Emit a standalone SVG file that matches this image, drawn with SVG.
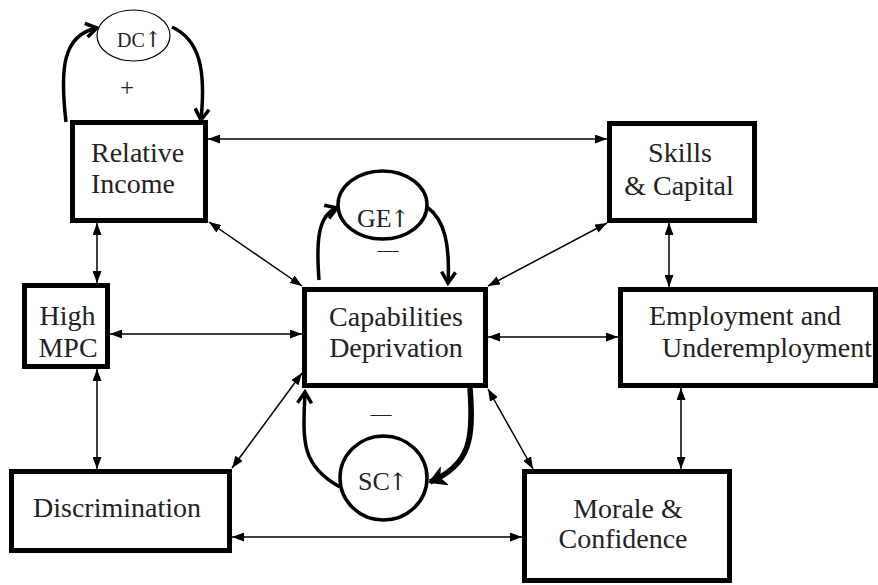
<svg xmlns="http://www.w3.org/2000/svg" width="878" height="585" viewBox="0 0 878 585">
<defs>
<style>
.box{fill:#fff;stroke:#000;stroke-width:5}
.t{font-family:"Liberation Serif","Times New Roman",serif;font-size:28px;fill:#222}
.c{text-anchor:middle}
.ar{font-family:"DejaVu Serif","DejaVu Sans",serif}
.ln{stroke:#000;stroke-width:1.5;fill:none;marker-start:url(#ah);marker-end:url(#ah)}
.loop{stroke:#000;stroke-width:3.5;fill:none;marker-end:url(#chev)}
</style>
<marker id="ah" viewBox="0 0 12 9" refX="12" refY="4.5" markerWidth="12" markerHeight="9" markerUnits="userSpaceOnUse" orient="auto-start-reverse">
<path d="M0,0 L12,4.5 L0,9 z" fill="#000"/>
</marker>
<marker id="chev" viewBox="-2 -2 16 18" refX="11" refY="7" markerWidth="16" markerHeight="18" markerUnits="userSpaceOnUse" orient="auto">
<path d="M0,0 L11,7 L0,14" fill="none" stroke="#000" stroke-width="3.5" stroke-linejoin="miter"/>
</marker>
<marker id="chevf" viewBox="-2 -2 18 20" refX="14" refY="8" markerWidth="18" markerHeight="20" markerUnits="userSpaceOnUse" orient="auto">
<path d="M0,0 L14,8 L0,16 L4,8 z" fill="#000" stroke="#000" stroke-width="2"/>
</marker>
</defs>

<g id="connectors">
<line class="ln" x1="208" y1="139" x2="607" y2="139"/>
<line class="ln" x1="97" y1="223" x2="97" y2="283"/>
<line class="ln" x1="209" y1="222" x2="302" y2="286"/>
<line class="ln" x1="607" y1="223" x2="488" y2="286"/>
<line class="ln" x1="669" y1="223" x2="669" y2="287"/>
<line class="ln" x1="110" y1="334" x2="302" y2="334"/>
<line class="ln" x1="488" y1="337" x2="618" y2="337"/>
<line class="ln" x1="97" y1="369" x2="97" y2="469"/>
<line class="ln" x1="232" y1="468" x2="302" y2="373"/>
<line class="ln" x1="488" y1="389" x2="533" y2="469"/>
<line class="ln" x1="681" y1="388" x2="681" y2="469"/>
<line class="ln" x1="232" y1="537" x2="522" y2="537"/>
<path class="loop" d="M66,122 C60,70 62,35 97,28"/>
<path class="loop" d="M172,27 C200,40 206,70 201,120"/>
<path class="loop" d="M319,280 C316,240 318,215 337,208"/>
<path class="loop" d="M427,207 C445,220 450,245 448,283"/>
<path class="loop" d="M340,487 C300,465 303,440 305,392"/>
<path d="M470,388 C474,440 470,465 430,482" fill="none" stroke="#000" stroke-width="5.5" marker-end="url(#chevf)"/>
</g>

<g id="dc">
<ellipse cx="133.5" cy="35.5" rx="36.5" ry="25.5" fill="#fff" stroke="#000" stroke-width="1.2"/>
<text class="t" x="117" y="47" style="font-size:20px">DC<tspan class="ar" dx="-1" style="font-size:22px">↑</tspan></text>
<text class="t c" x="127" y="96" style="font-size:25px">+</text>
</g>

<g id="ge">
<ellipse cx="382.5" cy="205" rx="44.5" ry="34" fill="#fff" stroke="#000" stroke-width="3.5"/>
<text class="t" x="357" y="227" style="font-size:26px">GE<tspan class="ar" dx="-2" style="font-size:24px">↑</tspan></text>
<text class="t c" x="388" y="257" style="font-size:21px">—</text>
</g>

<g id="sc">
<ellipse cx="383.5" cy="478" rx="43.5" ry="42" fill="#fff" stroke="#000" stroke-width="3.5"/>
<text class="t" x="358" y="490" style="font-size:26px">SC<tspan class="ar" dx="-2" style="font-size:24px">↑</tspan></text>
<text class="t c" x="381" y="421" style="font-size:21px">—</text>
</g>

<g id="relative-income">
<rect class="box" x="72.5" y="122.5" width="133" height="98"/>
<text class="t" x="91" y="162">Relative</text>
<text class="t" x="91" y="193">Income</text>
</g>

<g id="skills-capital">
<rect class="box" x="609.5" y="123.5" width="145" height="97"/>
<text class="t c" x="680" y="162">Skills</text>
<text class="t c" x="679" y="195">&amp; Capital</text>
</g>

<g id="high-mpc">
<rect class="box" x="24.5" y="285.5" width="83" height="81"/>
<text class="t c" x="67.5" y="325">High</text>
<text class="t c" x="68" y="357">MPC</text>
</g>

<g id="capabilities-deprivation">
<rect class="box" x="304.5" y="289.5" width="181" height="96"/>
<text class="t c" x="396" y="326">Capabilities</text>
<text class="t c" x="396" y="357">Deprivation</text>
</g>

<g id="employment">
<rect class="box" x="620.5" y="289.5" width="255" height="96"/>
<text class="t" x="649" y="325">Employment and</text>
<text class="t" x="662" y="357">Underemployment</text>
</g>

<g id="discrimination">
<rect class="box" x="11.5" y="471.5" width="218" height="79"/>
<text class="t" x="33" y="517">Discrimination</text>
</g>

<g id="morale-confidence">
<rect class="box" x="524.5" y="471.5" width="205" height="109"/>
<text class="t c" x="628" y="518">Morale &amp;</text>
<text class="t c" x="623" y="548">Confidence</text>
</g>
</svg>
